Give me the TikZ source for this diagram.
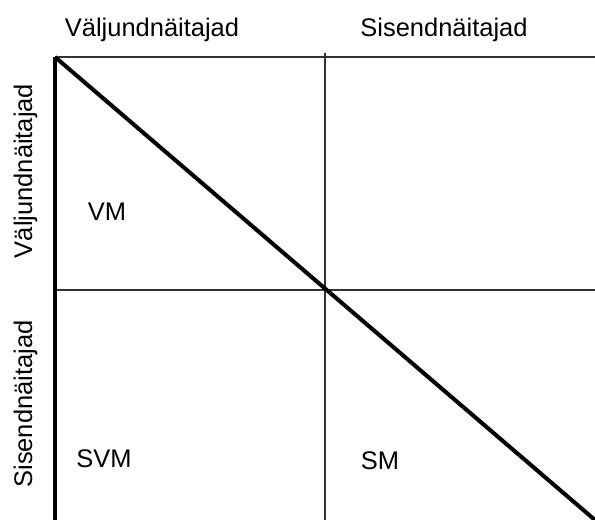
\documentclass[tikz,border=0pt]{standalone}
\usepackage{fontspec}
\setmainfont{Liberation Sans}
\usepackage{tikz}

\begin{document}
\begin{tikzpicture}[x=0.02cm, y=-0.02cm,
    thinline/.style={line width=1.1pt, black!80},
    boldline/.style={line width=2.3pt, black},
    lbl/.style={font=\fontsize{14.5pt}{17pt}\selectfont, anchor=base, inner sep=0pt}]
    \useasboundingbox (0,0) rectangle (595,520);

    % Corners
    \coordinate (tl) at (55,57);
    \coordinate (tr) at (595,57);
    \coordinate (bl) at (55,520);
    \coordinate (br) at (595,520);
    \coordinate (mt) at (325,53);
    \coordinate (mb) at (325,520);
    \coordinate (ml) at (55,290);
    \coordinate (mr) at (595,290);

    % Grid
    \draw[thinline] (tl) -- (tr);
    \draw[thinline] (mt) -- (mb);
    \draw[thinline] (ml) -- (mr);
    \draw[boldline] (tl) -- (bl);

    % Diagonal
    \draw[boldline] (tl) -- (br);

    % Labels top and left
    \node[lbl] (topout) at (152,37) {Väljundnäitajad};
    \node[lbl] (topin) at (444,37) {Sisendnäitajad};
    \node[lbl, rotate=90] (leftout) at (32,171) {Väljundnäitajad};
    \node[lbl, rotate=90] (leftin) at (32,404) {Sisendnäitajad};

    % Cells
    \node[lbl] (vm) at (107,221) {VM};
    \node[lbl] (svm) at (104,467) {SVM};
    \node[lbl] (sm) at (380,469) {SM};
\end{tikzpicture}
\end{document}
